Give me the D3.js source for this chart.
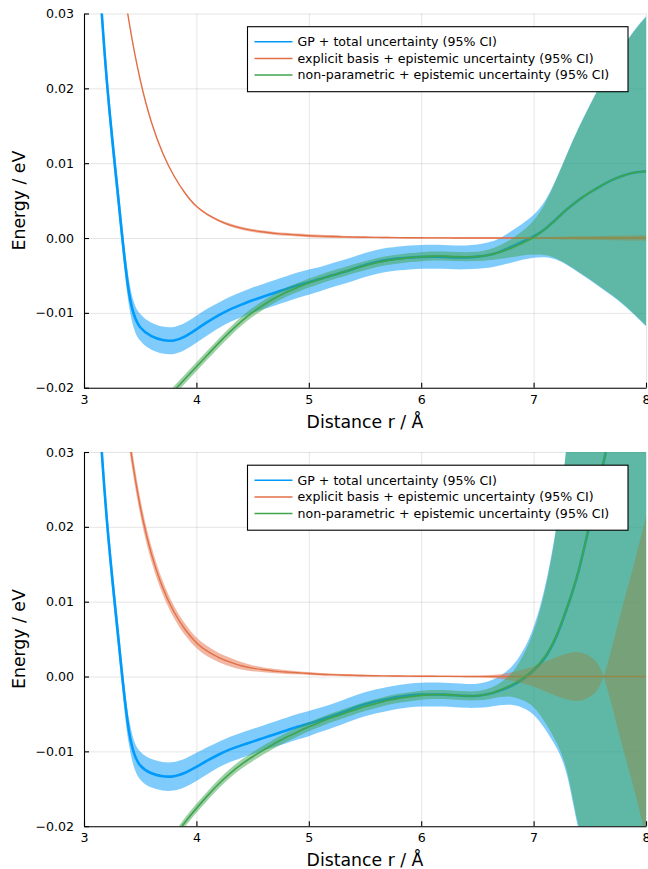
<!DOCTYPE html>
<html><head><meta charset="utf-8">
<script src="https://cdn.jsdelivr.net/npm/d3@7"></script>
<style>
body{margin:0;background:#fff}
svg{display:block}
text{font-family:"DejaVu Sans",sans-serif;fill:#000}
</style>
</head><body>
<svg id="chart" width="648" height="869"></svg>
<script>
// ---------- data ----------
const distance = [3.0,3.1,3.2,3.3,3.4,3.5,3.6,3.7,3.8,3.9,
  4.0,4.1,4.2,4.3,4.4,4.5,4.6,4.7,4.8,4.9,
  5.0,5.1,5.2,5.3,5.4,5.5,5.6,5.7,5.8,5.9,
  6.0,6.1,6.2,6.3,6.4,6.5,6.6,6.7,6.8,6.9,
  7.0,7.1,7.2,7.3,7.4,7.5,7.6,7.7,7.8,7.9,8.0];

const xTicks = [3,4,5,6,7,8];
const yTicks = [-0.02,-0.01,0.00,0.01,0.02,0.03];
const seriesNames = ["GP + total uncertainty (95% CI)",
  "explicit basis + epistemic uncertainty (95% CI)",
  "non-parametric + epistemic uncertainty (95% CI)"];
const xLabel = "Distance r / Å";
const yLabel = "Energy / eV";

// top panel
const gpMeanTop = [0.072,0.043,0.020,0.0065,-0.0095,-0.0122,-0.0132,-0.0137,-0.0138,-0.0132,
  -0.0122,-0.0112,-0.0103,-0.0095,-0.0089,-0.0083,-0.0078,-0.0073,-0.0068,-0.0063,
  -0.0059,-0.0055,-0.0050,-0.0046,-0.0041,-0.0036,-0.0032,-0.0029,-0.0027,-0.0026,
  -0.0025,-0.0025,-0.0025,-0.0026,-0.0026,-0.0025,-0.0023,-0.0019,-0.0012,-0.0005,
  0.0002,0.0011,0.0025,0.0039,0.0051,0.0061,0.0070,0.0078,0.0084,0.0088,0.0089];
const gpCiTop = [0.0017,0.0017,0.0017,0.0017,0.0017,0.0018,0.0018,0.0018,0.0018,0.0018,
  0.0018,0.0018,0.0017,0.0017,0.0017,0.0017,0.0017,0.0017,0.0017,0.0017,
  0.0017,0.0016,0.0016,0.0016,0.0016,0.0016,0.0016,0.0016,0.0016,0.0016,
  0.0016,0.0016,0.0016,0.0016,0.0016,0.0016,0.0017,0.0018,0.0021,0.0024,
  0.0028,0.0036,0.0053,0.0075,0.0097,0.0117,0.0137,0.0155,0.0173,0.0191,0.0207];
const ebMeanTop = [0.085,0.066,0.051,0.039,0.0285,0.0208,0.0152,0.0112,0.0082,0.0059,
  0.0041,0.0031,0.0023,0.0017,0.0013,0.0010,0.0008,0.0006,0.0005,0.0004,
  0.0003,0.00025,0.0002,0.00015,0.00012,0.0001,0.00008,0.00006,0.00005,0.00004,
  0.00003,0.00002,0.00002,0.00001,0.00001,0,0,0,0,0,
  0,0,0,0,0,0,0,0,0,0,0];
const ebCiTop = [0.0001,0.0001,0.0001,0.0001,0.0001,0.0001,0.0001,0.0001,0.0001,0.0001,
  0.0001,0.00012,0.00015,0.0002,0.0002,0.0002,0.0002,0.0002,0.0002,0.0002,
  0.0002,0.0002,0.0002,0.00015,0.00015,0.00012,0.0001,0.0001,0.0001,0.0001,
  0.0001,0.0001,0.0001,0.0001,0.0001,0.0001,0.0001,0.0001,0.0001,0.0001,
  0.0001,0.00012,0.00015,0.0002,0.00022,0.00025,0.00028,0.0003,0.00032,0.00034,0.00036];
const npMeanTop = [null,null,null,null,null,-0.0255,-0.0238,-0.0221,-0.0204,-0.0188,
  -0.0172,-0.0156,-0.0140,-0.0125,-0.0111,-0.0099,-0.0089,-0.0080,-0.0072,-0.0066,
  -0.0060,-0.0055,-0.0050,-0.0046,-0.0041,-0.0037,-0.0033,-0.0030,-0.0028,-0.0026,
  -0.0025,-0.0024,-0.0024,-0.0025,-0.0025,-0.0025,-0.0023,-0.0019,-0.0014,-0.0007,
  0.0000,0.0011,0.0025,0.0039,0.0051,0.0061,0.0070,0.0078,0.0084,0.0088,0.0089];
const npCiTop = [null,null,null,null,null,0.0006,0.0006,0.0006,0.0006,0.0006,
  0.0006,0.0006,0.0006,0.0006,0.0006,0.0006,0.0006,0.0006,0.0006,0.0006,
  0.0006,0.0006,0.0006,0.0006,0.0006,0.0006,0.0006,0.0006,0.0006,0.0006,
  0.0006,0.0006,0.0006,0.0006,0.0006,0.0006,0.0007,0.0009,0.0012,0.0016,
  0.0022,0.0033,0.0052,0.0074,0.0096,0.0116,0.0136,0.0154,0.0172,0.0190,0.0206];

// bottom panel
const gpMeanBot = [0.072,0.043,0.020,0.0063,-0.0095,-0.0122,-0.0130,-0.0134,-0.0134,-0.0129,
  -0.0121,-0.0112,-0.0104,-0.0097,-0.0092,-0.0087,-0.0082,-0.0077,-0.0072,-0.0067,
  -0.0063,-0.0058,-0.0053,-0.0048,-0.0042,-0.0037,-0.0033,-0.0030,-0.0027,-0.0025,
  -0.0024,-0.0024,-0.0024,-0.0025,-0.0026,-0.0026,-0.0024,-0.0019,-0.0013,-0.0005,
  0.0007,0.0023,0.0050,0.0092,0.0137,0.0205,0.0270,0.0340,0.0420,0.0500,0.0580];
const gpCiBot = [0.0017,0.0017,0.0017,0.0017,0.0017,0.0019,0.0019,0.0019,0.0019,0.0019,
  0.0019,0.0018,0.0017,0.0017,0.0017,0.0017,0.0017,0.0017,0.0017,0.0017,
  0.0017,0.0016,0.0016,0.0016,0.0016,0.0016,0.0016,0.0016,0.0016,0.0016,
  0.0016,0.0016,0.0016,0.0016,0.0016,0.0016,0.0017,0.0019,0.0024,0.0036,
  0.0056,0.0092,0.0143,0.0216,0.0350,0.0452,0.0602,0.0802,0.1002,0.1202,0.1402];
const ebMeanBot = [0.088,0.069,0.054,0.043,0.0315,0.0222,0.0161,0.0117,0.0085,0.0062,
  0.0044,0.0033,0.0025,0.0019,0.0014,0.0011,0.0009,0.0007,0.0006,0.0005,
  0.0004,0.0003,0.00025,0.0002,0.00015,0.00012,0.0001,0.00008,0.00006,0.00005,
  0.00004,0.00003,0.00002,0.00002,0.00001,0,0,0,0,0,
  0,0,0,0,0,0,0,0,0,0,0];
const ebCiBot = [0.0030,0.0025,0.0020,0.0016,0.0013,0.0011,0.0010,0.0009,0.0008,0.0008,
  0.0007,0.0007,0.0006,0.0006,0.0005,0.0004,0.0003,0.0003,0.00025,0.0002,
  0.0002,0.00015,0.00015,0.00015,0.00015,0.00015,0.0001,0.0001,0.0001,0.0001,
  0.0001,0.0001,0.0001,0.0001,0.0001,0.0001,0.00015,0.0003,0.0005,0.0009,
  0.0013,0.0020,0.0026,0.0031,0.0034,0.0028,0.0016,-0.0040,-0.0100,-0.0152,-0.0215];
const npMeanBot = [null,null,null,null,null,null,-0.0275,-0.0243,-0.0215,-0.0194,
  -0.0176,-0.0159,-0.0143,-0.0129,-0.0117,-0.0107,-0.0098,-0.0089,-0.0081,-0.0074,
  -0.0067,-0.0061,-0.0055,-0.0050,-0.0045,-0.0040,-0.0036,-0.0032,-0.0029,-0.0027,
  -0.0025,-0.0024,-0.0024,-0.0025,-0.0026,-0.0026,-0.0024,-0.0018,-0.0012,-0.0003,
  0.0009,0.0025,0.0052,0.0093,0.0138,0.0205,0.0270,0.0340,0.0420,0.0500,0.0580];
const npCiBot = [null,null,null,null,null,null,0.0006,0.0006,0.0006,0.0006,
  0.0006,0.0006,0.0006,0.0006,0.0006,0.0006,0.0006,0.0006,0.0006,0.0006,
  0.0006,0.0006,0.0006,0.0006,0.0006,0.0006,0.0006,0.0006,0.0006,0.0006,
  0.0006,0.0006,0.0006,0.0006,0.0006,0.0006,0.0007,0.0009,0.0014,0.0028,
  0.0048,0.0085,0.0138,0.0212,0.0345,0.0450,0.0600,0.0800,0.1000,0.1200,0.1400];

// ---------- styling ----------
const colors = ["#009AFA","#E36F47","#3EA44E"];
const lineWidths = [2.6,1.4,1.6];

const panels = [
  {top:13.5, series:[[gpMeanTop,gpCiTop],[ebMeanTop,ebCiTop],[npMeanTop,npCiTop]]},
  {top:452,  series:[[gpMeanBot,gpCiBot],[ebMeanBot,ebCiBot],[npMeanBot,npCiBot]]}
];

const left = 84, right = 646, plotH = 374.2;
const svg = d3.select("#chart");
const x = d3.scaleLinear().domain([3,8]).range([left,right]);
const fmt = d3.format(".2f");
const curve = d3.curveBasis;

panels.forEach((p,pi)=>{
  const y = d3.scaleLinear().domain([-0.02,0.03]).range([p.top+plotH, p.top]);
  const g = svg.append("g");
  const clipId = "clip"+pi;
  svg.append("clipPath").attr("id",clipId).append("rect")
    .attr("x",left).attr("y",p.top).attr("width",right-left).attr("height",plotH);

  // grid
  g.append("g").attr("transform",`translate(0,${p.top+plotH})`)
    .call(d3.axisBottom(x).tickValues(xTicks).tickSize(-plotH).tickFormat(""))
    .call(s=>{s.select(".domain").remove();s.selectAll("line").attr("stroke","#000").attr("stroke-opacity",0.1).attr("stroke-width",1);});
  g.append("g").attr("transform",`translate(${left},0)`)
    .call(d3.axisLeft(y).tickValues(yTicks).tickSize(-(right-left)).tickFormat(""))
    .call(s=>{s.select(".domain").remove();s.selectAll("line").attr("stroke","#000").attr("stroke-opacity",0.1).attr("stroke-width",1);});

  const plot = g.append("g").attr("clip-path",`url(#${clipId})`);
  p.series.forEach(([mean,ci],si)=>{
    const data = distance.map((r,i)=>({r, m:mean[i], c:ci[i]}));
    const def = d=>d.m!==null;
    const area = d3.area().defined(def).curve(curve)
      .x(d=>x(d.r)).y0(d=>y(d.m-d.c)).y1(d=>y(d.m+d.c));
    const line = d3.line().defined(def).curve(curve)
      .x(d=>x(d.r)).y(d=>y(d.m));
    plot.append("path").datum(data).attr("d",area)
      .attr("fill",colors[si]).attr("fill-opacity",0.5).attr("stroke","none");
    plot.append("path").datum(data).attr("d",line)
      .attr("fill","none").attr("stroke",colors[si]).attr("stroke-width",lineWidths[si]);
  });

  // axes
  const ax = g.append("g").attr("transform",`translate(0,${p.top+plotH})`)
    .call(d3.axisBottom(x).tickValues(xTicks).tickSizeInner(-5).tickSizeOuter(0).tickPadding(7).tickFormat(d3.format("d")));
  const ay = g.append("g").attr("transform",`translate(${left},0)`)
    .call(d3.axisLeft(y).tickValues(yTicks).tickSizeInner(-5).tickSizeOuter(0).tickPadding(10).tickFormat(fmt));
  [ax,ay].forEach(a=>{
    a.select(".domain").attr("stroke","#000").attr("stroke-width",1.1);
    a.selectAll(".tick line").attr("stroke","#000").attr("stroke-width",1.1);
    a.selectAll(".tick text").attr("font-size","12.6px").attr("font-family","DejaVu Sans").attr("fill","#000");
  });

  // titles
  g.append("text").attr("x",(left+right)/2).attr("y",p.top+plotH+40)
    .attr("text-anchor","middle").attr("font-size","17.3px").text(xLabel);
  g.append("text").attr("transform",`translate(25,${p.top+plotH/2}) rotate(-90)`)
    .attr("text-anchor","middle").attr("font-size","17.3px").text(yLabel);

  // legend
  const lg = g.append("g").attr("transform",`translate(247.5,${p.top+13.2})`);
  lg.append("rect").attr("width",380.5).attr("height",65).attr("fill","#fff")
    .attr("stroke","#000").attr("stroke-width",1.1);
  seriesNames.forEach((nm,i)=>{
    const yy = 15 + i*16.7;
    lg.append("line").attr("x1",7).attr("x2",45).attr("y1",yy).attr("y2",yy)
      .attr("stroke",colors[i]).attr("stroke-width",1.5);
    lg.append("text").attr("x",50).attr("y",yy).attr("dy","0.35em")
      .attr("font-size","12.6px").text(nm);
  });
});
</script>
</body></html>
